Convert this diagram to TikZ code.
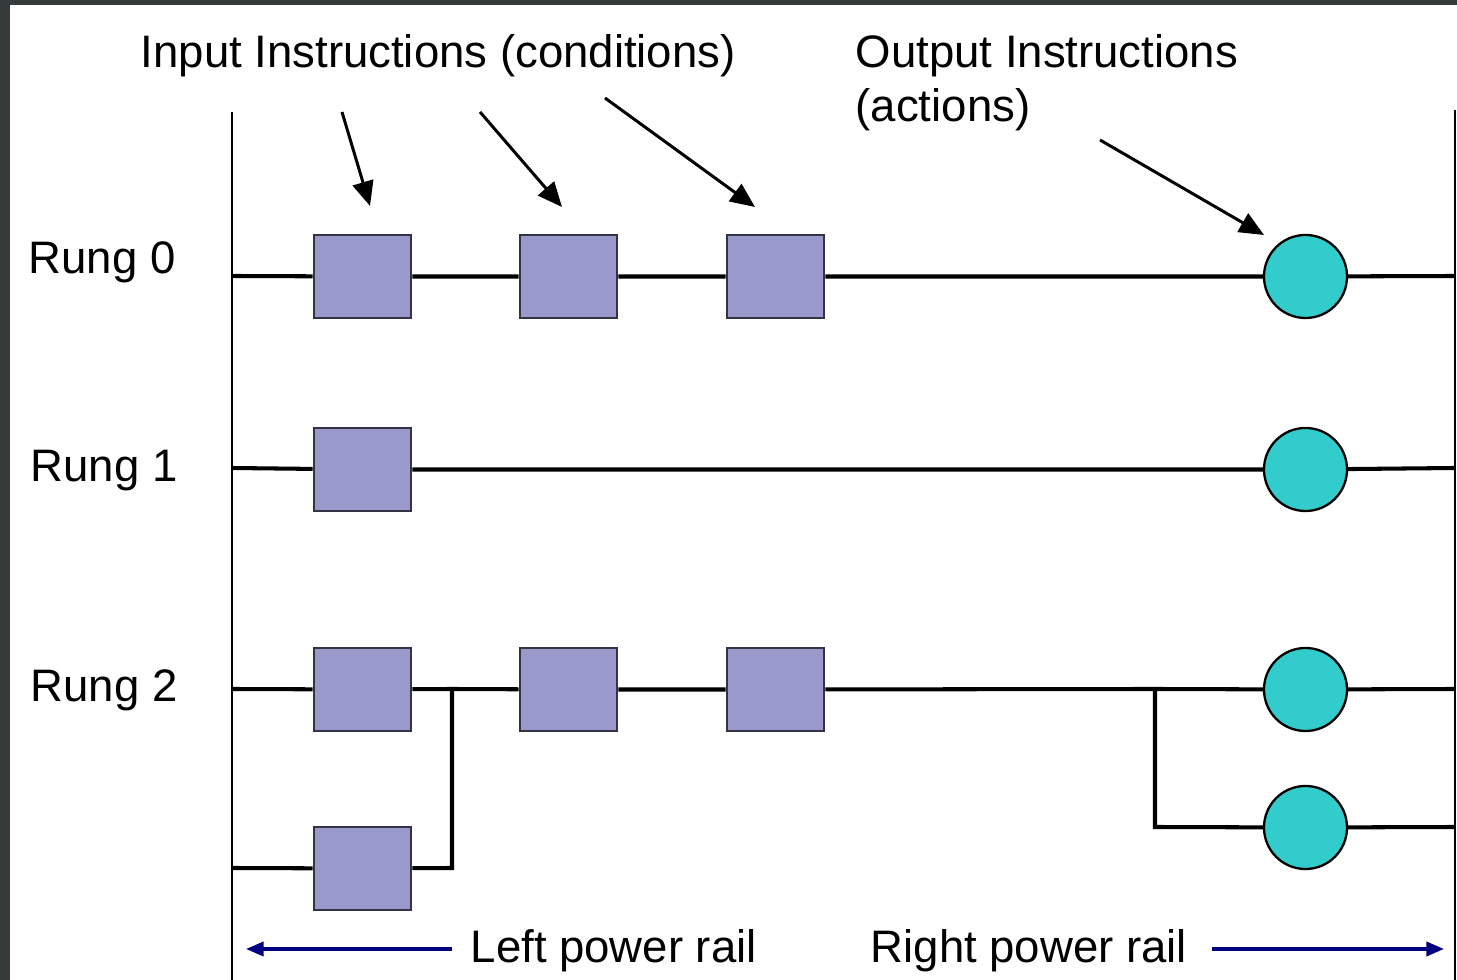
\documentclass[tikz,border=0pt]{standalone}
\usepackage{fontspec}
\setmainfont{Liberation Sans}
\usetikzlibrary{arrows.meta}
\definecolor{frame}{HTML}{353B3B}
\definecolor{boxfill}{HTML}{9999CC}
\definecolor{boxline}{HTML}{333344}
\definecolor{coilfill}{HTML}{33CCCC}
\definecolor{railblue}{HTML}{000080}
\tikzset{
  contact/.style={draw=boxline, line width=0.75pt, fill=boxfill, rectangle, minimum width=0.97cm, minimum height=0.83cm, inner sep=0pt},
  coil/.style={draw=black, line width=0.65pt, fill=coilfill, circle, minimum size=0.83cm, inner sep=0pt},
  rung/.style={line width=1.15pt, black, line join=miter},
  rail/.style={line width=0.75pt, black},
  pointer/.style={line width=0.85pt, black, -{Triangle[length=7pt,width=6pt]}},
  railarrow/.style={line width=0.95pt, railblue, -{Triangle[length=5pt,width=4pt]}},
  lbl/.style={anchor=base west, inner sep=0pt, font=\fontsize{12.95pt}{15.5pt}\selectfont, text=black}
}
\begin{document}
\begin{tikzpicture}[x=0.01cm,y=-0.01cm]
\useasboundingbox (0,0) rectangle (1457,980);
\fill[frame] (0,0) rectangle (1457,980);
\fill[white] (10,5) rectangle (1457,980);

% rails
\coordinate (LT) at (232,112);
\coordinate (LB) at (232,980);
\coordinate (RT) at (1455,110);
\coordinate (RB) at (1455,980);
\draw[rail] (LT) -- (LB);
\draw[rail] (RT) -- (RB);

% rung end points
\coordinate (L0) at (232,276);  \coordinate (R0) at (1455,276);
\coordinate (L1) at (232,468);  \coordinate (R1) at (1455,468);
\coordinate (L2) at (232,689);  \coordinate (R2) at (1455,689);
\coordinate (L3) at (232,868);
\coordinate (R3) at (1455,827);
\coordinate (J1) at (452,689);  \coordinate (J1c) at (452,868);
\coordinate (J2) at (1155,689); \coordinate (J2c) at (1155,827);

% elements
\node[contact] (b01) at (362.5,276.5) {};
\node[contact] (b02) at (568.5,276.5) {};
\node[contact] (b03) at (775.5,276.5) {};
\node[coil]    (c0)  at (1305.5,276.5) {};

\node[contact] (b11) at (362.5,469.5) {};
\node[coil]    (c1)  at (1305.5,469.5) {};

\node[contact] (b21) at (362.5,689.5) {};
\node[contact] (b22) at (568.5,689.5) {};
\node[contact] (b23) at (775.5,689.5) {};
\node[coil]    (c2)  at (1305.5,689.5) {};

\node[contact] (b24) at (362.5,868.5) {};
\node[coil]    (c3)  at (1305.5,827.5) {};

% rung wiring
\draw[rung] (L0) -- (b01) -- (b02) -- (b03) -- (c0) -- (R0);
\draw[rung] (L1) -- (b11) -- (c1) -- (R1);
\draw[rung] (L2) -- (b21) -- (J1) -- (b22) -- (b23) -- (J2) -- (c2) -- (R2);
\draw[rung] (L3) -- (b24) -- (J1c) -- (J1);
\draw[rung] (J2) -- (J2c) -- (c3) -- (R3);

% labels
\node[lbl] (tin) at (140,68) {Input Instructions (conditions)};
\node[lbl] (tout1) at (855,68) {Output Instructions};
\node[lbl] (tout2) at (855,122) {(actions)};
\node[lbl] (r0) at (28,274) {Rung 0};
\node[lbl] (r1) at (30,482) {Rung 1};
\node[lbl] (r2) at (30,702) {Rung 2};
\node[lbl] (lpr) at (470,963) {Left power rail};
\node[lbl] (rpr) at (870,963) {Right power rail};

% pointer arrows
\coordinate (a1s) at (342,112); \coordinate (a1e) at (370,206);
\coordinate (a2s) at (480,112); \coordinate (a2e) at (562,207);
\coordinate (a3s) at (605,98);  \coordinate (a3e) at (755,207);
\coordinate (a4s) at (1100,140); \coordinate (a4e) at (1264,235);
\draw[pointer] (a1s) -- (a1e);
\draw[pointer] (a2s) -- (a2e);
\draw[pointer] (a3s) -- (a3e);
\draw[pointer] (a4s) -- (a4e);

% power rail arrows
\coordinate (la1) at (452,949); \coordinate (la2) at (246,949);
\coordinate (ra1) at (1212,949); \coordinate (ra2) at (1444,949);
\draw[railarrow] (la1) -- (la2);
\draw[railarrow] (ra1) -- (ra2);
\end{tikzpicture}
\end{document}
